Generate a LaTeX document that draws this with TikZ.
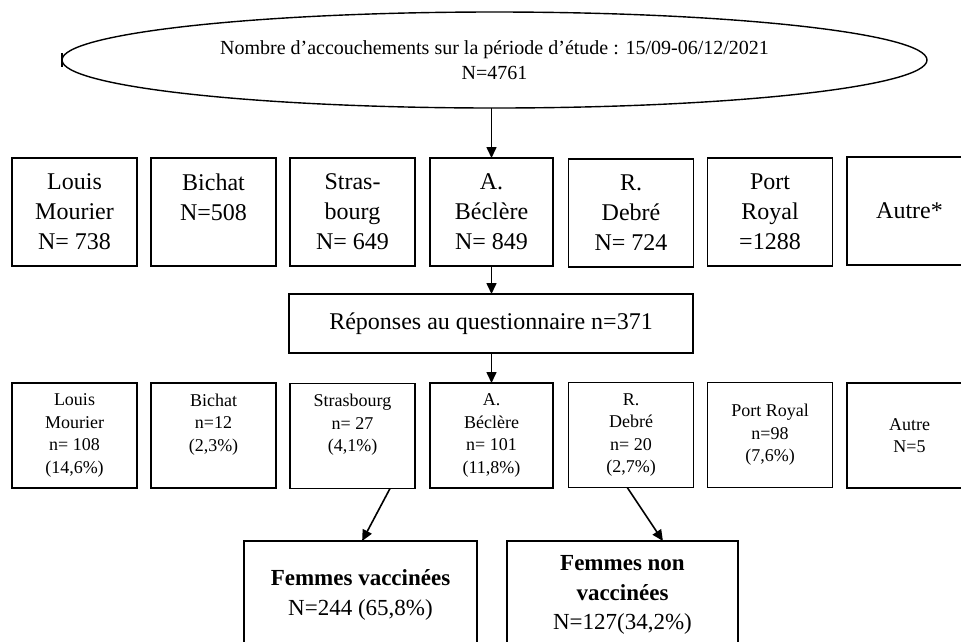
\documentclass[tikz,border=0pt]{standalone}
\usepackage{fontspec}
\setmainfont{Liberation Serif}
\usetikzlibrary{shapes.geometric,arrows.meta,calc}
\tikzset{
  box/.style={draw, line width=1.6pt, minimum width=125pt, minimum height=108pt, inner sep=0pt, outer sep=0pt, align=center, font=\fontsize{24}{30}\selectfont},
  sbox/.style={draw, line width=1.6pt, minimum width=125pt, minimum height=105pt, inner sep=0pt, outer sep=0pt, align=center, font=\fontsize{18}{22.4}\selectfont},
  bigbox/.style={draw, line width=1.6pt, minimum height=108pt, inner sep=0pt, outer sep=0pt, align=center, font=\fontsize{23}{29.5}\selectfont},
  arr/.style={line width=1.6pt, -{Triangle[length=11pt,width=10pt]}}
}
\begin{document}
\begin{tikzpicture}[x=1pt,y=-1pt]
\useasboundingbox (0,0) rectangle (961,641);
% top ellipse
\node[ellipse, draw, line width=1.4pt, minimum width=865pt, minimum height=96pt, inner sep=0pt, outer sep=0pt, align=center, font=\fontsize{20}{25}\selectfont] (ell) at (494.5,60) {Nombre d’accouchements sur la période d’étude : 15/09-06/12/2021\\N=4761};
\draw[line width=1.2pt] ($(ell.west)+(0,-7)$) -- ($(ell.west)+(0,7)$);
% row 1
\node[box] (lm1) at (74.5,212) {Louis\\Mourier\\N= 738};
\node[box] (bi1) at (213.5,212) {Bichat\\N=508\\\phantom{N}};
\node[box] (st1) at (352.5,212) {Stras-\\bourg\\N= 649};
\node[box, minimum width=123pt] (be1) at (491.5,212) {A.\\Béclère\\N= 849};
\node[box] (de1) at (631,213) {R.\\Debré\\N= 724};
\node[box] (pr1) at (770,212) {Port\\Royal\\=1288};
\node[box] (au1) at (909.5,211) {Autre*};
% questionnaire
\node[draw, line width=1.6pt, minimum width=404pt, minimum height=59pt, inner sep=0pt, outer sep=0pt, font=\fontsize{24}{30}\selectfont] (rep) at (491,323.5) {Réponses au questionnaire n=371};
% row 3
\node[sbox] (lm2) at (74.5,435.5) {Louis\\Mourier\\n= 108\\(14,6\%)};
\node[sbox] (bi2) at (213.5,435.5) {Bichat\\n=12\\(2,3\%)\\\phantom{(}};
\node[sbox] (st2) at (352.5,436) {Strasbourg\\n= 27\\(4,1\%)\\\phantom{(}};
\node[sbox, minimum width=123pt] (be2) at (491.5,435.5) {A.\\Béclère\\n= 101\\(11,8\%)};
\node[sbox] (de2) at (631,435) {R.\\Debré\\n= 20\\(2,7\%)};
\node[sbox] (pr2) at (770,435) {Port Royal\\n=98\\(7,6\%)};
\node[sbox] (au2) at (909.5,435.5) {Autre\\N=5};
% bottom
\node[bigbox, minimum width=233pt] (vac) at (360.5,595) {\textbf{Femmes vaccinées}\\N=244 (65,8\%)};
\node[bigbox, minimum width=231pt] (nvac) at (622.5,595) {\textbf{Femmes non}\\\textbf{vaccinées}\\N=127(34,2\%)};
% arrows
\draw[arr] (ell.south -| be1.north) -- (be1.north);
\draw[arr] (be1.south) -- (rep.north -| be1.south);
\draw[arr] (rep.south -| be2.north) -- (be2.north);
\draw[arr] ($(st2.south west)!0.8!(st2.south east)$) -- ($(vac.north west)!0.507!(vac.north east)$);
\draw[arr] ($(de2.south west)!0.47!(de2.south east)$) -- ($(nvac.north west)!0.675!(nvac.north east)$);
\end{tikzpicture}
\end{document}
